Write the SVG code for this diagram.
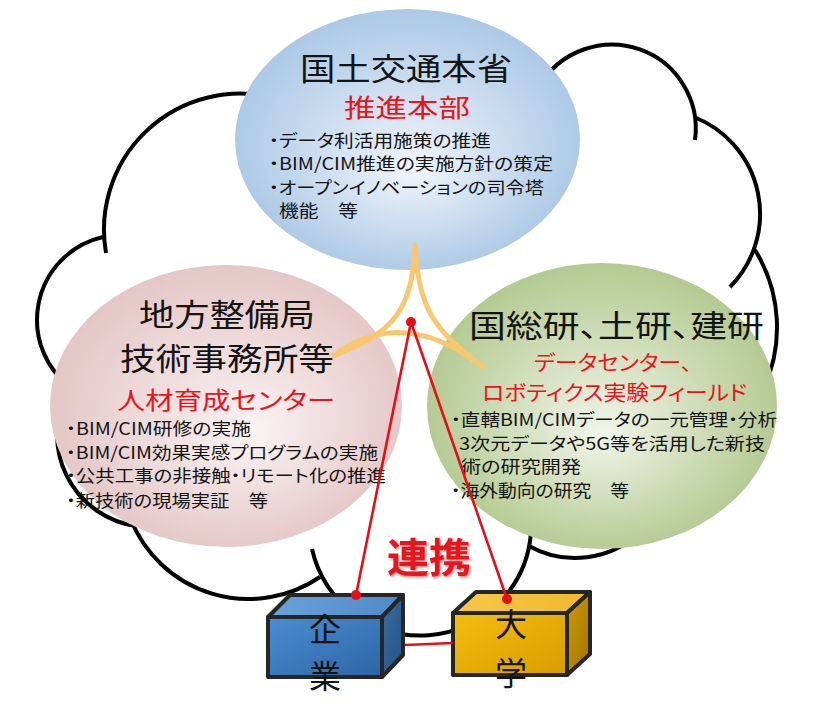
<svg xmlns="http://www.w3.org/2000/svg" width="825" height="707" viewBox="0 0 825 707">
<style>
.cloud{fill:none;stroke:#000;stroke-width:4}
.t{font-family:"Noto Sans CJK JP","Noto Sans CJK SC",sans-serif;font-feature-settings:"palt";fill:#141414}
.big{font-size:31px}
.sub{font-size:24px;fill:#e8141c}
.li{font-size:17px}
.box{stroke:#262626;stroke-width:4;stroke-linejoin:round}
.red{stroke:#e60e17;stroke-width:2.6;fill:none}
.dot{fill:#e60e17}
</style>
<defs>
<radialGradient id="gBlue" cx="0.5" cy="0.5" r="0.55" fx="0.52" fy="0.62">
<stop offset="0" stop-color="#f0f5fb"/><stop offset="1" stop-color="#a7c5e4"/>
</radialGradient>
<radialGradient id="gPink" cx="0.5" cy="0.5" r="0.55" fx="0.58" fy="0.6">
<stop offset="0" stop-color="#faf3f3"/><stop offset="1" stop-color="#e3c3c3"/>
</radialGradient>
<radialGradient id="gGreen" cx="0.5" cy="0.5" r="0.55" fx="0.5" fy="0.6">
<stop offset="0" stop-color="#f1f5ea"/><stop offset="1" stop-color="#afc68a"/>
</radialGradient>
<linearGradient id="bFront" x1="0" y1="0" x2="1" y2="1">
<stop offset="0" stop-color="#4a8ed4"/><stop offset="1" stop-color="#2e64a3"/>
</linearGradient>
<linearGradient id="bTop" x1="0" y1="0" x2="1" y2="0">
<stop offset="0" stop-color="#6aa2db"/><stop offset="1" stop-color="#4f89c6"/>
</linearGradient>
<linearGradient id="bSide" x1="0" y1="0" x2="1" y2="1">
<stop offset="0" stop-color="#3a6fa8"/><stop offset="1" stop-color="#23507f"/>
</linearGradient>
<linearGradient id="yFront" x1="0" y1="0" x2="1" y2="1">
<stop offset="0" stop-color="#f5bd10"/><stop offset="1" stop-color="#d79d00"/>
</linearGradient>
<linearGradient id="yTop" x1="0" y1="0" x2="1" y2="0">
<stop offset="0" stop-color="#f6c84a"/><stop offset="1" stop-color="#efb92a"/>
</linearGradient>
<linearGradient id="ySide" x1="0" y1="0" x2="1" y2="1">
<stop offset="0" stop-color="#d09a05"/><stop offset="1" stop-color="#a07300"/>
</linearGradient>
<filter id="shadow" x="-20%" y="-20%" width="140%" height="140%">
<feDropShadow dx="1.5" dy="1.5" stdDeviation="1.2" flood-color="#7a0000" flood-opacity="0.45"/>
</filter>
</defs>
<rect width="825" height="707" fill="#fff"/>

<g id="cloud">
<path class="cloud" d="M 106 253 A 136 136 0 0 1 270 97"/>
<path class="cloud" d="M 540 85 A 84 84 0 0 1 695 140"/>
<path class="cloud" d="M 694 117 A 104 104 0 0 1 730 287"/>
<path class="cloud" d="M 755 250 A 147 147 0 0 1 763 390"/>
<path class="cloud" d="M 529 546 A 94 94 0 0 0 640 532"/>
<path class="cloud" d="M 312 549 A 111 111 0 0 0 531 532"/>
<path class="cloud" d="M 131 520 A 127 127 0 0 0 320 577"/>
<path class="cloud" d="M 70 388 A 92 92 0 0 0 136 526"/>
<path class="cloud" d="M 103 237 A 85 85 0 0 0 74 390"/>
</g>

<g id="node-mlit">
<ellipse cx="407.5" cy="139.5" rx="172.5" ry="130.5" fill="url(#gBlue)"/>
<text class="t big" x="300" y="80" textLength="212" lengthAdjust="spacingAndGlyphs">国土交通本省</text>
<text class="t sub" x="344" y="117" textLength="126" lengthAdjust="spacingAndGlyphs" style="font-size:25px">推進本部</text>
<text class="t li" x="269" y="147" textLength="222" lengthAdjust="spacingAndGlyphs">・データ利活用施策の推進</text>
<text class="t li" x="269" y="170" textLength="284" lengthAdjust="spacingAndGlyphs">・BIM/CIM推進の実施方針の策定</text>
<text class="t li" x="269" y="194" textLength="275" lengthAdjust="spacingAndGlyphs">・オープンイノベーションの司令塔</text>
<text class="t li" x="279" y="217" textLength="79" lengthAdjust="spacingAndGlyphs">機能　等</text>
</g>

<g id="node-regional">
<ellipse cx="226" cy="406" rx="176" ry="141" fill="url(#gPink)"/>
<text class="t big" x="139" y="326" textLength="176" lengthAdjust="spacingAndGlyphs">地方整備局</text>
<text class="t big" x="120" y="370" textLength="214" lengthAdjust="spacingAndGlyphs">技術事務所等</text>
<text class="t sub" x="117" y="409" textLength="218" lengthAdjust="spacingAndGlyphs">人材育成センター</text>
<text class="t li" x="66" y="435" textLength="185" lengthAdjust="spacingAndGlyphs">・BIM/CIM研修の実施</text>
<text class="t li" x="66" y="459" textLength="312" lengthAdjust="spacingAndGlyphs">・BIM/CIM効果実感プログラムの実施</text>
<text class="t li" x="66" y="482" textLength="320" lengthAdjust="spacingAndGlyphs">・公共工事の非接触・リモート化の推進</text>
<text class="t li" x="66" y="507" textLength="202" lengthAdjust="spacingAndGlyphs">・新技術の現場実証　等</text>
</g>

<g id="node-research">
<ellipse cx="602" cy="406" rx="175" ry="143" fill="url(#gGreen)"/>
<text class="t big" x="469" y="337" textLength="295" lengthAdjust="spacingAndGlyphs">国総研、土研、建研</text>
<text class="t sub" x="534" y="370" textLength="158" lengthAdjust="spacingAndGlyphs" style="font-size:21px">データセンター、</text>
<text class="t sub" x="482" y="400" textLength="265" lengthAdjust="spacingAndGlyphs" style="font-size:21px">ロボティクス実験フィールド</text>
<text class="t li" x="451" y="426" textLength="326" lengthAdjust="spacingAndGlyphs">・直轄BIM/CIMデータの一元管理・分析</text>
<text class="t li" x="459" y="450" textLength="306" lengthAdjust="spacingAndGlyphs">3次元データや5G等を活用した新技</text>
<text class="t li" x="461" y="473" textLength="120" lengthAdjust="spacingAndGlyphs">術の研究開発</text>
<text class="t li" x="451" y="497" textLength="178" lengthAdjust="spacingAndGlyphs">・海外動向の研究　等</text>
</g>

<g id="node-company">
<polygon class="box" points="268,617 290,595 403,595 382,617" fill="url(#bTop)"/>
<polygon class="box" points="382,617 403,595 403,655 382,677" fill="url(#bSide)"/>
<rect class="box" x="268" y="617" width="114" height="60" fill="url(#bFront)"/>
<text class="t" x="325" y="641" text-anchor="middle" style="font-size:32px">企</text>
<text class="t" x="325" y="688" text-anchor="middle" style="font-size:32px">業</text>
</g>

<g id="node-university">
<polygon class="box" points="453,613 476,592 590,592 567,613" fill="url(#yTop)"/>
<polygon class="box" points="567,613 590,592 590,654 567,675" fill="url(#ySide)"/>
<rect class="box" x="453" y="613" width="114" height="62" fill="url(#yFront)"/>
<text class="t" x="511" y="636" text-anchor="middle" style="font-size:32px">大</text>
<text class="t" x="511" y="685" text-anchor="middle" style="font-size:32px">学</text>
</g>

<g id="connectors">
<path d="M 415 245 C 412 310 395 332 333 356 Q 402 304 483 367 C 435 330 418 310 415 245 Z" fill="none" stroke="#f8c870" stroke-width="5" stroke-linejoin="round"/>
<line class="red" x1="411" y1="322" x2="356" y2="595"/>
<line class="red" x1="411" y1="322" x2="507" y2="599"/>
<line class="red" x1="405" y1="645" x2="453" y2="643"/>
<circle class="dot" cx="411" cy="322" r="5"/>
<circle class="dot" cx="356" cy="595" r="5"/>
<circle class="dot" cx="507" cy="599" r="5"/>
<text class="t" x="387" y="572" textLength="84" lengthAdjust="spacingAndGlyphs" filter="url(#shadow)" style="font-size:40px;font-weight:bold;fill:#e8141c">連携</text>
</g>
</svg>
